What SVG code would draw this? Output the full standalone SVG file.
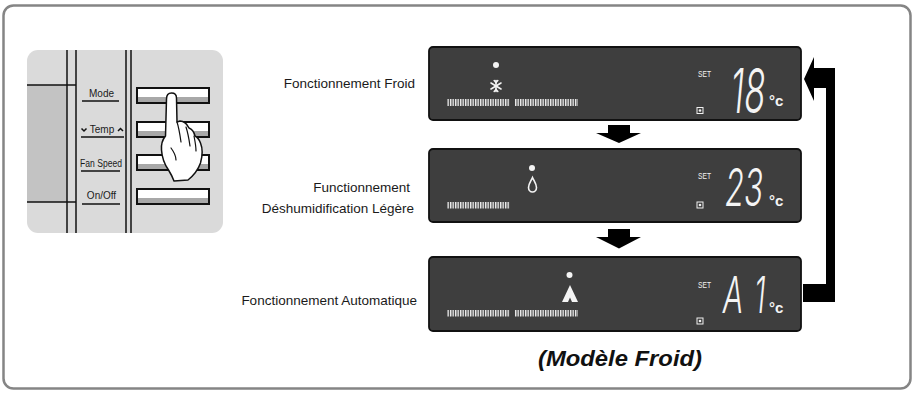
<svg xmlns="http://www.w3.org/2000/svg" width="914" height="393" viewBox="0 0 914 393">
  <style>
    .lbl { font-family: "Liberation Sans", Arial, sans-serif; font-size: 13.5px; fill: #1a1a1a; }
    .key { font-family: "Liberation Sans", Arial, sans-serif; font-size: 10px; fill: #1a1a1a; text-anchor: middle; }
    .rule { stroke: #111; stroke-width: 1.5; fill: none; }
    .btn { fill: #fff; stroke: #111; stroke-width: 2; }
    .btnshade { fill: #a8a8a8; }
    .lcd { fill: #3e3e3e; stroke: #111; stroke-width: 1.8; }
    .set { font-family: "Liberation Sans", Arial, sans-serif; font-size: 9.5px; fill: #f2f2f2; }
    .seg { font-family: "Inter", "DejaVu Sans", sans-serif; font-weight: 300; font-style: italic; fill: #f4f4f4; text-anchor: middle; }
    .deg { font-family: "Liberation Sans", Arial, sans-serif; font-size: 15px; font-weight: bold; fill: #f4f4f4; }
    .icon { fill: none; stroke: #f4f4f4; stroke-width: 1.6; stroke-linecap: round; }
    .dot { fill: #f4f4f4; }
    .arrow { fill: #000; }
  </style>
  <defs>
    <pattern id="bars" width="2.5" height="10" patternUnits="userSpaceOnUse">
      <rect width="1.4" height="10" fill="#eeeeee"/>
    </pattern>
    <g id="modeSquare">
      <rect x="-3" y="-3" width="6" height="6" fill="none" stroke="#f0f0f0" stroke-width="1"/>
      <circle r="1.3" fill="#f0f0f0"/>
    </g>
  </defs>

  <!-- page frame -->
  <rect x="3.5" y="5.5" width="907" height="383" rx="10" fill="#fff" stroke="#858585" stroke-width="2.5"/>

  <!-- remote control key pad -->
  <g id="keypad">
    <rect x="27" y="50" width="196" height="183" rx="11" fill="#dadada"/>
    <rect x="27" y="85" width="40" height="117" fill="#c3c3c3"/>
    <line class="rule" x1="27" y1="85" x2="76" y2="85"/>
    <line class="rule" x1="27" y1="202" x2="76" y2="202"/>
    <line class="rule" x1="67" y1="50" x2="67" y2="233"/>
    <line class="rule" x1="76" y1="50" x2="76" y2="233"/>
    <line class="rule" x1="126" y1="50" x2="126" y2="233"/>
    <line class="rule" x1="131" y1="50" x2="131" y2="233"/>

    <text class="key" x="101.5" y="97">Mode</text>
    <line class="rule" x1="82" y1="101" x2="119" y2="101"/>
    <path class="rule" d="M81.5,128.5 L84,131 L86.5,128.5"/>
    <text class="key" x="102" y="133">Temp</text>
    <path class="rule" d="M118,131 L120.5,128.5 L123,131"/>
    <line class="rule" x1="81" y1="137" x2="124" y2="137"/>
    <text class="key" x="101" y="167" textLength="42" lengthAdjust="spacingAndGlyphs">Fan Speed</text>
    <line class="rule" x1="81" y1="171" x2="120" y2="171"/>
    <text class="key" x="101.5" y="199">On/Off</text>
    <line class="rule" x1="82" y1="204" x2="120" y2="204"/>

    <rect class="btn" x="137" y="88" width="72" height="15"/>
    <rect class="btnshade" x="138" y="97" width="70" height="5"/>
    <rect class="btn" x="137" y="122" width="72" height="15"/>
    <rect class="btnshade" x="138" y="131" width="70" height="5"/>
    <rect class="btn" x="137" y="155" width="72" height="15"/>
    <rect class="btnshade" x="138" y="164" width="70" height="5"/>
    <rect class="btn" x="137" y="189" width="72" height="15"/>
    <rect class="btnshade" x="138" y="198" width="70" height="5"/>

    <!-- pressing hand -->
    <path d="M171.5,93 C168,93 166.5,96 166.5,99 L165.5,136 C163,139 161,144 161.5,150 C162,158 165,165 168.5,170 C171,174 173,178 174,181 L188,180 C193,176 198,170 200.5,163 C202.5,156 202.5,148 200.5,143 C199,139 197,137 195,136 C194,132 192,129 189,128 C187,124 184,121 180,121 L177,122 L176.5,98 C176.5,95 174.5,93 171.5,93 Z" fill="#fff" stroke="#111" stroke-width="1.5" stroke-linejoin="round"/>
    <path d="M177,122 C179,128 180,135 181,142 M186,127 C188,133 189,139 190,146 M194,136 C195,141 196,146 196,151 M171,148 C174,152 176,155 176,160" fill="none" stroke="#111" stroke-width="1.2" stroke-linecap="round"/>
  </g>

  <!-- mode labels -->
  <g id="label-froid">
    <text class="lbl" x="415" y="88" text-anchor="end">Fonctionnement Froid</text>
  </g>
  <g id="label-deshum">
    <text class="lbl" x="410" y="192" text-anchor="end">Functionnement</text>
    <text class="lbl" x="414" y="213" text-anchor="end">Déshumidification Légère</text>
  </g>
  <g id="label-auto">
    <text class="lbl" x="417" y="305" text-anchor="end">Fonctionnement Automatique</text>
  </g>

  <!-- display: cooling -->
  <g id="lcd-froid">
    <rect class="lcd" x="429" y="47" width="372" height="73" rx="4"/>
    <circle class="dot" cx="496" cy="65" r="3"/>
    <g class="icon" transform="translate(496,86)">
      <line x1="0" y1="-5.5" x2="0" y2="5.5"/>
      <line x1="-5" y1="-3" x2="5" y2="3"/>
      <line x1="-5" y1="3" x2="5" y2="-3"/>
      <path d="M-1.8,-5.5 L0,-3.5 L1.8,-5.5 M-1.8,5.5 L0,3.5 L1.8,5.5"/>
    </g>
    <rect x="447" y="99" width="63" height="7" fill="url(#bars)"/>
    <rect x="515" y="99" width="63" height="7" fill="url(#bars)"/>
    <text class="set" x="698" y="77" textLength="13" lengthAdjust="spacingAndGlyphs">SET</text>
    <use href="#modeSquare" x="700" y="110.5"/>
    <text class="seg" transform="translate(748,113) scale(0.56,1)" font-size="62">18</text>
    <text class="deg" x="769" y="106">°c</text>
  </g>

  <!-- display: light dehumidifying -->
  <g id="lcd-deshum">
    <rect class="lcd" x="429" y="149" width="372" height="73" rx="4"/>
    <circle class="dot" cx="532" cy="168" r="3"/>
    <path class="icon" d="M532.5,177.5 C531,181 528.5,184 528.5,187.5 C528.5,190 530.3,192 532.5,192 C534.7,192 536.5,190 536.5,187.5 C536.5,184 534,181 532.5,177.5 Z"/>
    <rect x="447" y="202" width="63" height="6.5" fill="url(#bars)"/>
    <text class="set" x="698" y="178.5" textLength="13" lengthAdjust="spacingAndGlyphs">SET</text>
    <use href="#modeSquare" x="700" y="205"/>
    <text class="seg" transform="translate(744,206) scale(0.6,1)" font-size="52">23</text>
    <text class="deg" x="769" y="206">°c</text>
  </g>

  <!-- display: automatic -->
  <g id="lcd-auto">
    <rect class="lcd" x="429" y="257" width="372" height="74" rx="4"/>
    <circle class="dot" cx="569.5" cy="275" r="3"/>
    <path d="M570,285 L578,302 L572,302 L570,297.5 L568,302 L562,302 Z" fill="#f4f4f4"/>
    <rect x="447" y="310" width="63" height="6.5" fill="url(#bars)"/>
    <rect x="515" y="310" width="63" height="6.5" fill="url(#bars)"/>
    <text class="set" x="698" y="287.5" textLength="13" lengthAdjust="spacingAndGlyphs">SET</text>
    <use href="#modeSquare" x="700" y="321"/>
    <text class="seg" transform="translate(733,313) scale(0.6,1)" font-size="51">A</text>
    <text class="seg" transform="translate(760,313) scale(0.56,1)" font-size="51">1</text>
    <text class="deg" x="769" y="313">°c</text>
  </g>

  <!-- connectors -->
  <g id="connectors">
    <polygon class="arrow" points="608,125 630,125 630,133 641,133 619,143 596,133 608,133"/>
    <polygon class="arrow" points="608,229 630,229 630,237 641,237 619,248.5 596,237 608,237"/>
    <polygon class="arrow" points="804,79 814,57 814,68 835,68 835,302 803,302 803,284 826,284 826,88 814,88 814,101"/>
  </g>

  <!-- caption -->
  <text x="538" y="366" textLength="164" lengthAdjust="spacingAndGlyphs" font-family="Liberation Sans, Arial, sans-serif" font-size="21.5" font-weight="bold" font-style="italic" fill="#111">(Modèle Froid)</text>
</svg>
